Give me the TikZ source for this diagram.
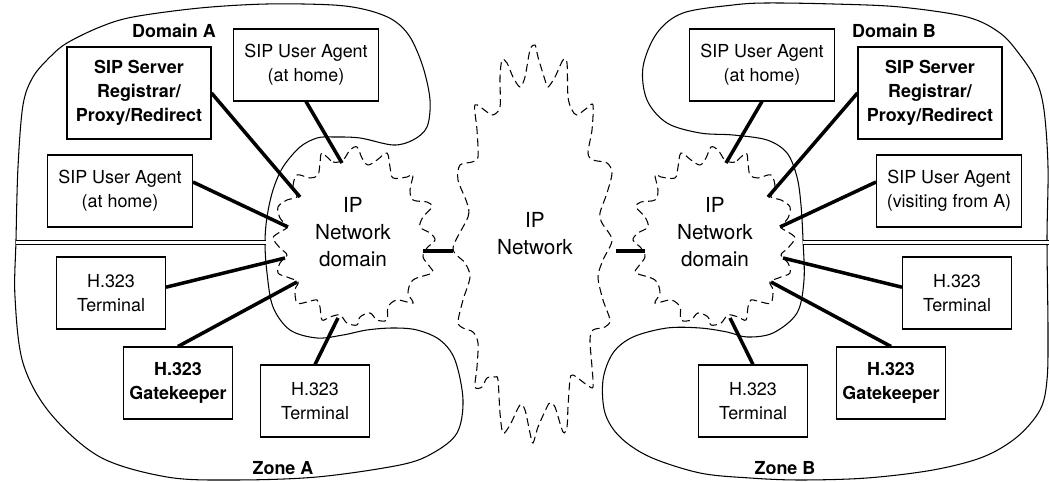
\documentclass[tikz,border=0pt]{standalone}
\usepackage{fontspec}
\setmainfont{TeX Gyre Heros}

% wavy outline of one IP network domain (drawn for A, mirrored for B)
\newcommand{\lancloud}{%
  \draw[wavy] plot[smooth cycle, tension=0.55] coordinates {
    (322,153) (333,162) (343,160) (350,150) (357,147) (362,158) (368,165) (377,160)
    (387,153) (390,167) (393,178) (407,177) (413,175) (410,190) (413,200) (427,202)
    (432,207) (423,217) (420,227) (430,233) (435,240) (427,248) (423,257) (430,267)
    (432,273) (413,280) (408,293) (413,303) (397,300) (388,307) (387,320) (377,320)
    (370,313) (360,317) (357,325) (347,323) (340,315) (330,317) (322,320) (320,307)
    (317,300) (307,302) (297,303) (295,290) (298,282) (287,277) (278,273) (280,263)
    (287,255) (280,248) (273,238) (280,232) (287,227) (280,218) (278,207) (287,200)
    (297,197) (293,187) (297,175) (310,178) (318,175) (320,163)};}

\begin{document}
\begin{tikzpicture}[x=0.02cm, y=-0.02cm,
    box/.style={rectangle, draw, line width=0.6pt, minimum width=2.9cm, minimum height=1.44cm, align=center, inner sep=1pt, font=\fontsize{10.2}{13.6}\selectfont},
    h323/.style={box, minimum width=2.18cm},
    keeper/.style={h323, font=\fontsize{10.2}{13.6}\selectfont\bfseries},
    server/.style={box, minimum width=2.88cm, minimum height=1.84cm, font=\fontsize{10.2}{13.6}\selectfont\bfseries},
    link/.style={line width=2pt},
    rim/.style={line width=0.6pt},
    wavy/.style={line width=0.6pt, dash pattern=on 4.5pt off 2.5pt},
    netlabel/.style={align=center, font=\fontsize{11.8}{15.3}\selectfont},
    zonelabel/.style={font=\fontsize{10.2}{12}\selectfont\bfseries}
]
    \useasboundingbox (0,0) rectangle (1049,482);

    % domain A / zone A
    \draw[rim] plot[smooth cycle, tension=0.55] coordinates {
        (16,240) (18,167) (23,105) (33,77) (50,57) (67,43) (100,27) (133,17) (200,8)
        (267,4) (333,5) (367,10) (393,20) (410,37) (423,67) (430,100) (427,127)
        (413,140) (393,145) (360,138) (333,137) (317,138) (300,147) (283,167)
        (273,190) (267,217) (265,243) (267,273) (273,307) (290,330) (317,338)
        (343,335) (367,330) (393,328) (417,330) (440,340) (455,360) (463,400)
        (457,433) (433,453) (400,465) (317,477) (233,480) (167,477) (100,457)
        (50,413) (23,363) (15,297)};
    \draw[rim, double, double distance=2.2pt] (16,242.5) -- (266,242.5);

    % domain B / zone B
    \draw[rim] plot[smooth cycle, tension=0.55] coordinates {
        (1047,240) (1048,167) (1044,110) (1036,80) (1020,55) (1000,33) (967,17)
        (900,7) (833,4) (767,3) (733,5) (683,13) (657,33) (643,67) (647,100)
        (667,123) (700,133) (733,135) (767,140) (787,153) (797,177) (801,205)
        (803,240) (804,280) (797,313) (773,333) (747,337) (727,332) (700,328)
        (667,328) (633,337) (613,353) (603,380) (605,413) (620,437) (650,457)
        (700,473) (750,478) (800,480) (867,478) (933,470) (983,457) (1017,437)
        (1040,410) (1047,380) (1048,330)};
    \draw[rim, double, double distance=2.2pt] (803,242.5) -- (1049,242.5);

    % IP network domains
    \lancloud
    \begin{scope}[shift={(1068,0)}, xscale=-1]
        \lancloud
    \end{scope}

    % IP network in the middle
    \draw[wavy] plot[smooth cycle, tension=0.5] coordinates {
        (453,248) (468,217) (467,203) (458,180) (460,165) (472,162) (478,157)
        (477,130) (475,105) (487,112) (493,115) (500,107) (500,77) (502,60)
        (507,63) (513,77) (520,87) (525,77) (530,50) (535,45) (538,57) (545,80)
        (548,87) (555,77) (563,60) (567,63) (568,97) (572,110) (577,115) (587,108)
        (593,105) (592,130) (588,153) (593,160) (607,163) (612,173) (607,193)
        (600,213) (602,223) (612,240) (603,260) (598,277) (603,300) (610,320)
        (605,327) (593,330) (590,340) (592,367) (593,387) (587,385) (573,375)
        (570,380) (568,407) (567,427) (563,432) (555,407) (550,403) (547,407)
        (538,427) (533,443) (530,433) (525,410) (520,405) (510,425) (503,433)
        (500,413) (498,380) (495,377) (487,378) (482,387) (475,387) (477,367)
        (478,343) (473,332) (463,328) (458,322) (463,300) (470,277) (465,263)};

    \node[netlabel] (netA) at (353,232) {IP\\Network\\domain};
    \node[netlabel] (netB) at (715,232) {IP\\Network\\domain};
    \node[netlabel] (ipnet) at (535,234) {IP\\Network};

    % attachment points on the clouds
    \coordinate (atA1) at (300,197);
    \coordinate (atA2) at (342,163);
    \coordinate (atA3) at (288,227);
    \coordinate (atA4) at (285,258);
    \coordinate (atA5) at (297,282);
    \coordinate (atA6) at (338,318);
    \coordinate (atA7) at (423,251);
    \coordinate (atB1) at (768,197);
    \coordinate (atB2) at (726,163);
    \coordinate (atB3) at (780,227);
    \coordinate (atB4) at (783,258);
    \coordinate (atB5) at (771,282);
    \coordinate (atB6) at (730,318);
    \coordinate (atB7) at (645,251);
    \coordinate (ipW) at (453,251);
    \coordinate (ipE) at (616,251);

    % domain A
    \node[server] (srvA) at (139,93) {SIP Server\\Registrar/\\Proxy/Redirect};
    \node[box] (uaHomeA) at (306,65) {SIP User Agent\\(at home)};
    \node[box] (uaA) at (120,191) {SIP User Agent\\(at home)};
    \node[h323] (termA) at (111,293) {H.323\\Terminal};
    \node[keeper] (gkA) at (178,383) {H.323\\Gatekeeper};
    \node[h323] (termLowA) at (315,401) {H.323\\Terminal};

    % domain B
    \node[box] (uaHomeB) at (762,65) {SIP User Agent\\(at home)};
    \node[server] (srvB) at (930,93) {SIP Server\\Registrar/\\Proxy/Redirect};
    \node[box] (uaVisit) at (949,191) {SIP User Agent\\(visiting from A)};
    \node[h323] (termB) at (957,293) {H.323\\Terminal};
    \node[keeper] (gkB) at (891,383) {H.323\\Gatekeeper};
    \node[h323] (termLowB) at (753,401) {H.323\\Terminal};

    \node[zonelabel] (domA) at (174,31) {Domain A};
    \node[zonelabel] (domB) at (894,31) {Domain B};
    \node[zonelabel] (zoneA) at (283,468) {Zone A};
    \node[zonelabel] (zoneB) at (785,468) {Zone B};

    \draw[link] (srvA.east) -- (atA1);
    \draw[link] (uaHomeA.south) -- (atA2);
    \draw[link] (uaA.7) -- (atA3);
    \draw[link] (termA.6) -- (atA4);
    \draw[link] (gkA.north) -- (atA5);
    \draw[link] (termLowA.north) -- (atA6);
    \draw[link] (atA7) -- (ipW);

    \draw[link] (srvB.west) -- (atB1);
    \draw[link] (uaHomeB.south) -- (atB2);
    \draw[link] (uaVisit.173) -- (atB3);
    \draw[link] (termB.174) -- (atB4);
    \draw[link] (gkB.north) -- (atB5);
    \draw[link] (termLowB.north) -- (atB6);
    \draw[link] (ipE) -- (atB7);
\end{tikzpicture}
\end{document}
